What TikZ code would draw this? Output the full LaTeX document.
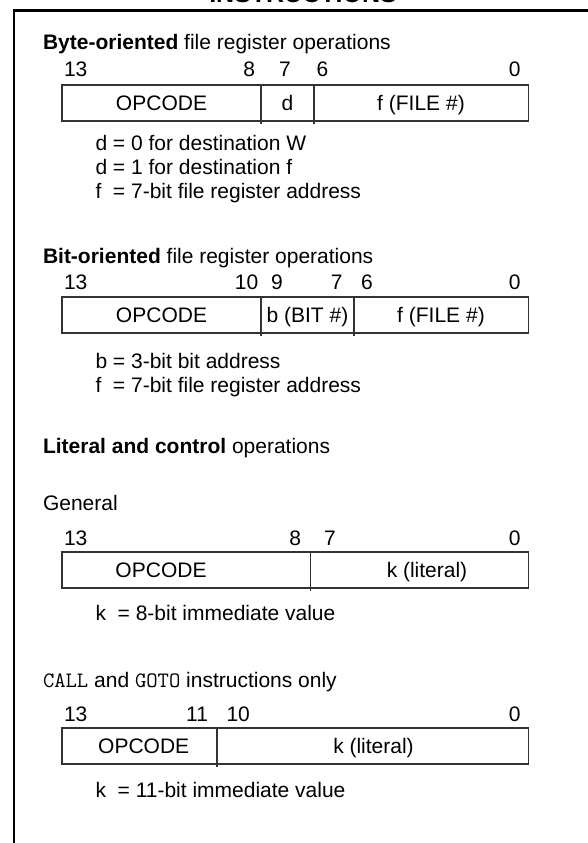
\documentclass[tikz,border=0pt]{standalone}
\usepackage{fontspec}
\setmainfont{Liberation Sans}
\newcommand{\code}[1]{{\ttfamily\fontsize{22}{24}\selectfont #1}}
\begin{document}
\begin{tikzpicture}[x=1pt,y=-1pt,
  every node/.style={inner sep=0pt, outer sep=0pt},
  body/.style={font=\fontsize{21}{24}\selectfont},
  lft/.style={body, anchor=base west},
  rgt/.style={body, anchor=base east},
  mid/.style={body, anchor=base},
  fieldbox/.style={draw=black!80, line width=1.3pt, anchor=north west, minimum height=36pt},
  divider/.style={draw=black!80, line width=1.3pt},
  frame/.style={line width=2.6pt}]
\useasboundingbox (0,0) rectangle (587,843);

% frame and clipped title
\draw[frame] (14,845) -- (14,10.5) -- (589,10.5);
\node[font=\bfseries\fontsize{25}{30}\selectfont, anchor=base] (title) at (303,2.5) {INSTRUCTIONS};

% ---------- Byte-oriented ----------
\node[lft] (h1) at (43,50) {\textbf{Byte-oriented} file register operations};
\node[lft] (a13) at (64,77) {13};
\node[rgt] (a8) at (255,77) {8};
\node[lft] (a7) at (279,77) {7};
\node[lft] (a6) at (316.5,77) {6};
\node[rgt] (a0) at (520.5,77) {0};
\node[fieldbox, minimum width=466.7pt] (box1) at (62,85) {};
\draw[divider] (261,85) -- (261,123.5);
\draw[divider] (314,85) -- (314,123.5);
\node[mid] (op1) at (161.5,110.7) {OPCODE};
\node[mid] (d1) at (287.5,110.7) {d};
\node[mid] (f1) at (421,110.7) {f (FILE \#)};
\node[lft] (l1a) at (95.5,150) {d = 0 for destination W};
\node[lft] (l1b) at (95.5,174) {d = 1 for destination f};
\node[lft] (l1c) at (95.5,198) {f~~= 7-bit file register address};

% ---------- Bit-oriented ----------
\node[lft] (h2) at (43,263) {\textbf{Bit-oriented} file register operations};
\node[lft] (b13) at (64,289) {13};
\node[rgt] (b10) at (258.3,289) {10};
\node[lft] (b9) at (271,289) {9};
\node[rgt] (b7) at (342.6,289) {7};
\node[lft] (b6) at (361,289) {6};
\node[rgt] (b0) at (520.5,289) {0};
\node[fieldbox, minimum width=466.7pt] (box2) at (62,297) {};
\draw[divider] (261,297) -- (261,335.5);
\draw[divider] (354,297) -- (354,335.5);
\node[mid] (op2) at (161.5,322.5) {OPCODE};
\node[mid] (bb2) at (307.5,322.5) {b (BIT \#)};
\node[mid] (f2) at (441,322.5) {f (FILE \#)};
\node[lft] (l2a) at (95.5,368) {b = 3-bit bit address};
\node[lft] (l2b) at (95.5,392) {f~~= 7-bit file register address};

% ---------- Literal and control ----------
\node[lft] (h3) at (43,453) {\textbf{Literal and control} operations};
\node[lft] (gen) at (43,510) {General};
\node[lft] (c13) at (64,545) {13};
\node[rgt] (c8) at (301,545) {8};
\node[lft] (c7) at (324,545) {7};
\node[rgt] (c0) at (520.5,545) {0};
\node[fieldbox, minimum width=466.7pt] (box3) at (62,552) {};
\draw[divider] (310.7,552) -- (310.7,590.5);
\node[mid] (op3) at (161,577.5) {OPCODE};
\node[mid] (k3) at (427,577.5) {k (literal)};
\node[lft] (l3) at (95.5,620.5) {k~~= 8-bit immediate value};

\node[lft] (h4) at (43,687) {\code{CALL} and \code{GOTO} instructions only};
\node[lft] (e13) at (64,721) {13};
\node[rgt] (e11) at (208,721) {11};
\node[lft] (e10) at (226.5,721) {10};
\node[rgt] (e0) at (520.5,721) {0};
\node[fieldbox, minimum width=466.7pt] (box4) at (62,728) {};
\draw[divider] (217,728) -- (217,766.5);
\node[mid] (op4) at (143.7,753.5) {OPCODE};
\node[mid] (k4) at (373.5,753.5) {k (literal)};
\node[lft] (l4) at (95.5,797) {k~~= 11-bit immediate value};
\end{tikzpicture}
\end{document}
